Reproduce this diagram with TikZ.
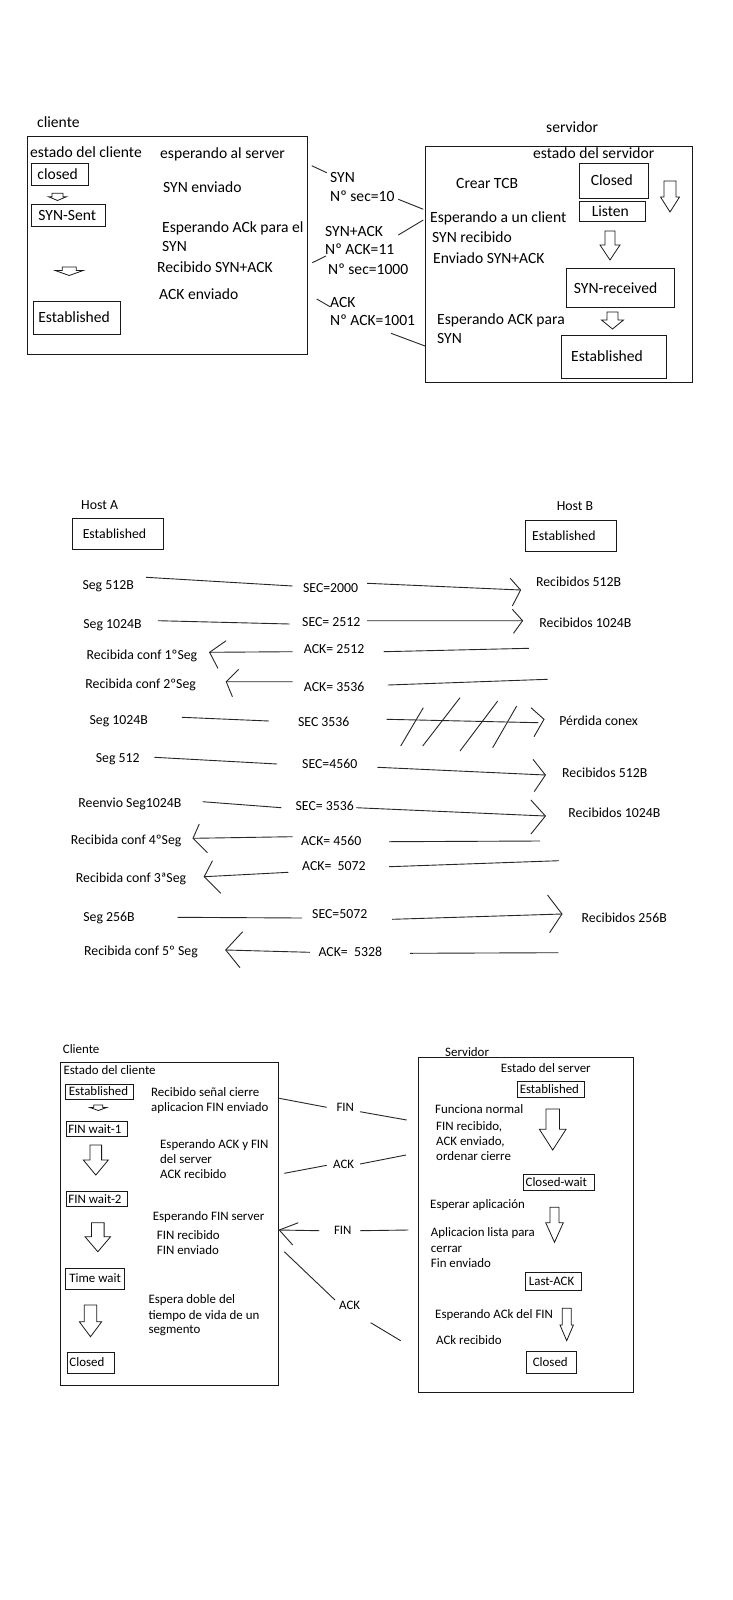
\documentclass[tikz,border=0pt]{standalone}
\usepackage{fontspec}
\setmainfont{Carlito}
\newcommand\DArr[6]{% cx, top, shaft half, head half, head start, tip
  \draw[blk] ({#1-#3},#2) -- ({#1+#3},#2) -- ({#1+#3},#5) -- ({#1+#4},#5) -- (#1,#6) -- ({#1-#4},#5) -- ({#1-#3},#5) -- cycle;}
\begin{document}
\begin{tikzpicture}[x=1pt,y=-1pt,
  txt/.style={inner sep=0pt, anchor=base west, yshift=-5.6pt},
  ctxt/.style={inner sep=0pt, text height=8.3pt, text depth=0pt},
  stbox/.style={draw=black!90, line width=0.9pt, inner ysep=0pt, anchor=west, text depth=0pt},
  bigbox/.style={draw=black!90, line width=0.9pt, anchor=north west, inner sep=0pt},
  conn/.style={draw=black!85, line width=0.9pt},
  blk/.style={draw=black!90, line width=0.8pt, fill=white, line join=miter}]
\useasboundingbox[fill=white] (0,0) rectangle (733,1600);

% ================= SECTION 1 =================
\begin{scope}[every node/.append style={font=\fontsize{15.6}{18}\selectfont},
  txt/.append style={yshift=-0.2pt}, stbox/.append style={text height=10pt}]
\node[txt] (cli) at (37,122) {cliente};
\node[bigbox, minimum width=280pt, minimum height=218.3pt] (cbox) at (27.3,135.7) {};
\node[txt] (ec) at (30,152) {estado del cliente};
\node[stbox, inner xsep=6pt, minimum height=21.7pt] (a1) at (31,174.15) {\makebox[45.3pt][l]{closed}};
\node[stbox, inner xsep=7pt, minimum height=22.4pt] (a2) at (31,215.5) {\makebox[60pt][l]{SYN-Sent}};
\node[stbox, inner xsep=4.5pt, minimum height=33.3pt] (a3) at (33.3,317.65) {\makebox[77.7pt][l]{Established}};
\DArr{57.5}{193.3}{5.5}{9}{196.7}{200.5}
\DArr{69.2}{267}{7}{14}{270.5}{275.5}
\node[txt] (t1) at (160,153) {esperando al server};
\node[txt] (t2) at (163,187) {SYN enviado};
\node[txt] (t3) at (162,227) {Esperando ACk para el};
\node[txt] (t4) at (162,246) {SYN};
\node[txt] (t5) at (157,267) {Recibido SYN+ACK};
\node[txt] (t6) at (159,294) {ACK enviado};

\node[txt] (m1) at (330,177) {SYN};
\node[txt] (m2) at (330,196) {Nº sec=10};
\node[txt] (m3) at (325,231) {SYN+ACK};
\node[txt] (m4) at (325,249) {Nº ACK=11};
\node[txt] (m5) at (328,269) {Nº sec=1000};
\node[txt] (m6) at (330,302) {ACK};
\node[txt] (m7) at (330,320) {Nº ACK=1001};

\node[txt] (srv) at (546,127) {servidor};
\node[bigbox, minimum width=266.7pt, minimum height=235.7pt] (sbox) at (425,146) {};
\node[txt] (es) at (533,153) {estado del servidor};
\node[stbox, inner xsep=11pt, minimum height=35pt] (s1) at (579.3,180.8) {\makebox[47pt][l]{Closed}};
\node[stbox, inner xsep=12pt, minimum height=20.7pt] (s2) at (579.3,211.35) {\makebox[41.7pt][l]{Listen}};
\node[stbox, inner xsep=7.5pt, minimum height=39pt] (s3) at (566,288.2) {\makebox[93.3pt][l]{SYN-received}};
\node[stbox, inner xsep=10pt, minimum height=43.3pt] (s4) at (560.7,356.65) {\makebox[85pt][l]{Established}};
\DArr{670}{181}{6}{9.5}{197}{212}
\DArr{610}{231}{5}{10}{245}{260}
\DArr{612.5}{312}{5.5}{11}{320}{329}
\node[txt] (u1) at (456,183) {Crear TCB};
\node[txt] (u2) at (430,217) {Esperando a un client};
\node[txt] (u3) at (432,237) {SYN recibido};
\node[txt] (u4) at (433,258) {Enviado SYN+ACK};
\node[txt] (u5) at (437,319) {Esperando ACK para};
\node[txt] (u6) at (437,338) {SYN};
\end{scope}
\coordinate (k1a) at (311.7,165.7); \coordinate (k1b) at (326.7,172.7);
\coordinate (k1c) at (398.3,199.3); \coordinate (k1d) at (423.3,209.3);
\coordinate (k2a) at (423.3,220);   \coordinate (k2b) at (398.3,235);
\coordinate (k2c) at (326,256);     \coordinate (k2d) at (312.3,262.7);
\coordinate (k3a) at (316.7,299);   \coordinate (k3b) at (330,306.7);
\coordinate (k3c) at (391,333.3);   \coordinate (k3d) at (425,346);
\draw[conn] (k1a) -- (k1b) (k1c) -- (k1d) (k2a) -- (k2b) (k2c) -- (k2d) (k3a) -- (k3b) (k3c) -- (k3d);

% ================= SECTION 2 =================
\begin{scope}[every node/.append style={font=\fontsize{13.8}{16}\selectfont},
  txt/.append style={yshift=0.4pt}, stbox/.append style={text height=8.9pt}]
\node[txt] (ha) at (81,504) {Host A};
\node[txt] (hb) at (556.6,505) {Host B};
\node[stbox, inner xsep=10.7pt, minimum height=31pt] (hae) at (71.6,533.8) {\makebox[69.8pt][l]{Established}};
\node[stbox, inner xsep=7pt, minimum height=31.7pt] (hbe) at (524.7,535.85) {\makebox[77.2pt][l]{Established}};

\node[txt] (r1l) at (82.3,584) {Seg 512B};
\node[txt] (r1m) at (302.9,587.3) {SEC=2000};
\node[txt] (r1r) at (535.9,581.7) {Recibidos 512B};
\node[txt] (r2l) at (83.2,623.3) {Seg 1024B};
\node[txt] (r2m) at (302,621.7) {SEC= 2512};
\node[txt] (r2r) at (539.2,622.7) {Recibidos 1024B};
\node[txt] (r3l) at (86.5,654) {Recibida conf 1ºSeg};
\node[txt] (r3m) at (303.7,648.3) {ACK= 2512};
\node[txt] (r4l) at (85.2,683.3) {Recibida conf 2ºSeg};
\node[txt] (r4m) at (303.7,686.7) {ACK= 3536};
\node[txt] (r5l) at (89.4,719.3) {Seg 1024B};
\node[txt] (r5m) at (297.9,721.7) {SEC 3536};
\node[txt] (r5r) at (559.1,720) {Pérdida conex};
\node[txt] (r6l) at (95.6,757.3) {Seg 512};
\node[txt] (r6m) at (302,763.3) {SEC=4560};
\node[txt] (r6r) at (562,772.3) {Recibidos 512B};
\node[txt] (r7l) at (78.2,802.7) {Reenvio Seg1024B};
\node[txt] (r7m) at (295.4,805.7) {SEC= 3536};
\node[txt] (r7r) at (568.2,812.3) {Recibidos 1024B};
\node[txt] (r8l) at (70.7,839) {Recibida conf 4ºSeg};
\node[txt] (r8m) at (300.8,840.7) {ACK= 4560};
\node[txt] (r9l) at (75.7,877.3) {Recibida conf 3ªSeg};
\node[txt] (r9m) at (302,865.7) {ACK=~ 5072};
\node[txt] (r10l) at (83.2,916.7) {Seg 256B};
\node[txt] (r10m) at (312,913.3) {SEC=5072};
\node[txt] (r10r) at (581.5,917.3) {Recibidos 256B};
\node[txt] (r11l) at (84,950) {Recibida conf 5º Seg};
\node[txt] (r11m) at (318.3,951.7) {ACK=~ 5328};
\end{scope}

% row 1
\coordinate (p1) at (520.6,590);
\draw[conn] (146.2,577.3) -- (292.5,586) (367.2,583.3) -- (p1);
\draw[conn] (510.2,578.3) -- (p1) -- (512.3,606);
% row 2
\coordinate (p2) at (522.6,620.7);
\draw[conn] (157.8,620.7) -- (289.6,624) (367.2,620.7) -- (p2);
\draw[conn] (512.3,609.3) -- (p2) -- (513.5,633.3);
% row 3
\coordinate (p3) at (209.6,652.3);
\draw[conn] (p3) -- (292.5,651.7) (383.7,651.7) -- (528.9,648.3);
\draw[conn] (226.2,640.7) -- (p3) -- (217.9,668.3);
% row 4
\coordinate (p4) at (226.2,681.7);
\draw[conn] (p4) -- (292.5,681.7) (387.9,685) -- (547.5,679.3);
\draw[conn] (238.6,669.3) -- (p4) -- (232.4,696.7);
% row 5
\coordinate (p5) at (544,719.3);
\draw[conn] (181.8,717.3) -- (268.9,721) (386.7,719.3) -- (538.3,722.7);
\draw[conn] (531,707.7) -- (p5) -- (534,736.7);
\draw[conn] (400.7,746) -- (423.3,707.7) (422.7,746) -- (460,697.7)
            (460,751) -- (497.7,701) (492.7,747.7) -- (516.7,706);
% row 6
\coordinate (p6) at (545.4,775);
\draw[conn] (154.5,757.3) -- (277.2,764) (377.5,767.3) -- (p6);
\draw[conn] (533,759.3) -- (p6) -- (534.2,791.7);
% row 7
\coordinate (p7) at (545.4,816);
\draw[conn] (202.6,801.7) -- (281.3,807.7) (356,807.7) -- (p7);
\draw[conn] (530.9,800) -- (p7) -- (530.9,834);
% row 8
\coordinate (p8) at (193,838.3);
\draw[conn] (p8) -- (292.5,836.7) (389.1,841.7) -- (540,841);
\draw[conn] (199.3,824) -- (p8) -- (207.5,852.7);
% row 9
\coordinate (p9) at (204.2,876.7);
\draw[conn] (p9) -- (288.4,872.3) (389.1,866.7) -- (559.1,860.7);
\draw[conn] (212.5,860.7) -- (p9) -- (220.8,893.3);
% row 10
\coordinate (p10) at (562,914);
\draw[conn] (177.7,917.3) -- (302,918) (392,919.3) -- (p10);
\draw[conn] (547.5,895) -- (p10) -- (549.6,932.7);
% row 11
\coordinate (p11) at (225.7,950);
\draw[conn] (p11) -- (310,952.3) (410,953.3) -- (558.3,952.7);
\draw[conn] (242.7,931.7) -- (p11) -- (240,967.7);

% ================= SECTION 3 =================
\begin{scope}[every node/.append style={font=\fontsize{12.9}{15}\selectfont},
  txt/.append style={yshift=0pt}, stbox/.append style={text height=8.3pt}]
\node[txt] (cl3) at (62.7,1047.7) {Cliente};
\node[bigbox, minimum width=218.6pt, minimum height=323.3pt] (cbox3) at (59.8,1061.7) {};
\node[txt] (ec3) at (63.3,1069) {Estado del cliente};
\node[stbox, inner xsep=3.5pt, minimum height=15pt] (c1) at (65,1091.5) {\makebox[61.3pt][l]{Established}};
\node[stbox, inner xsep=1.8pt, minimum height=14.3pt] (c2) at (66,1128.85) {\makebox[57.1pt][l]{FIN wait-1}};
\node[stbox, inner xsep=2pt, minimum height=15pt] (c3) at (66,1199.2) {\makebox[56.7pt][l]{FIN wait-2}};
\node[stbox, inner xsep=4pt, minimum height=20.7pt] (c4) at (65,1278.65) {\makebox[51pt][l]{Time wait}};
\node[stbox, inner xsep=2.5pt, minimum height=21pt] (c5) at (66.5,1362.8) {\makebox[42.8pt][l]{Closed}};
\DArr{98.3}{1105}{4.5}{8.3}{1107.5}{1110.5}
\DArr{95.8}{1145}{5.8}{12.5}{1160}{1175}
\DArr{97.8}{1222.7}{6.3}{12.8}{1236.7}{1251.7}
\DArr{90.5}{1305}{6.3}{11.2}{1321.7}{1336.7}
\node[txt] (v1) at (151,1090.7) {Recibido señal cierre};
\node[txt] (v2) at (151,1106) {aplicacion FIN enviado};
\node[txt] (v3) at (160,1143.3) {Esperando ACK y FIN};
\node[txt] (v4) at (160,1158.3) {del server};
\node[txt] (v5) at (160,1173.3) {ACK recibido};
\node[txt] (v6) at (152.7,1215) {Esperando FIN server};
\node[txt] (v7) at (156.7,1234) {FIN recibido};
\node[txt] (v8) at (156.7,1249) {FIN enviado};
\node[txt] (v9) at (148.3,1298.3) {Espera doble del};
\node[txt] (v10) at (148.3,1314) {tiempo de vida de un};
\node[txt] (v11) at (148.3,1328.3) {segmento};

\node[ctxt] (f1) at (345.3,1107.3) {FIN};
\node[ctxt] (f2) at (343.7,1164.3) {ACK};
\node[ctxt] (f3) at (342.8,1230.3) {FIN};
\node[ctxt] (f4) at (349.7,1305.7) {ACK};

\node[txt] (sv3) at (445,1050.7) {Servidor};
\node[bigbox, minimum width=215pt, minimum height=335pt] (sbox3) at (417.5,1057.3) {};
\node[txt] (es3) at (500.7,1067.3) {Estado del server};
\node[stbox, inner xsep=2pt, minimum height=15.6pt] (d1) at (517.3,1089.5) {\makebox[62.7pt][l]{Established}};
\node[stbox, inner xsep=2.5pt, minimum height=16.7pt] (d2) at (522.7,1182.35) {\makebox[66.3pt][l]{Closed-wait}};
\node[stbox, inner xsep=3.5pt, minimum height=17.3pt] (d3) at (525,1281.35) {\makebox[48.7pt][l]{Last-ACK}};
\node[stbox, inner xsep=6pt, minimum height=21.6pt] (d4) at (526.4,1362.5) {\makebox[37.4pt][l]{Closed}};
\DArr{552.7}{1109}{6.7}{13.3}{1129.3}{1150}
\DArr{554.5}{1207.3}{4.5}{8.8}{1222.7}{1242.3}
\DArr{566.7}{1308.3}{4.5}{6.7}{1325}{1340.7}
\node[txt] (w1) at (435,1107.7) {Funciona normal};
\node[txt] (w2) at (436,1125) {FIN recibido,};
\node[txt] (w3) at (436,1140) {ACK enviado,};
\node[txt] (w4) at (436,1155) {ordenar cierre};
\node[txt] (w5) at (430,1203.3) {Esperar aplicación};
\node[txt] (w6) at (430.7,1231) {Aplicacion lista para};
\node[txt] (w7) at (430.7,1246.7) {cerrar};
\node[txt] (w8) at (430.7,1261.7) {Fin enviado};
\node[txt] (w9) at (435,1312.7) {Esperando ACk del FIN};
\node[txt] (w10) at (436,1339) {ACk recibido};
\end{scope}

\coordinate (q3) at (279.3,1230);
\draw[conn] (279.3,1098.3) -- (326.7,1107.3) (360,1111.7) -- (406.7,1120);
\draw[conn] (406,1155) -- (360,1164) (326.7,1165.3) -- (284.3,1173.3);
\draw[conn] (408.3,1230) -- (360,1230.7) (319.3,1230.7) -- (q3);
\draw[conn] (298.3,1222.7) -- (q3) -- (292.7,1245);
\draw[conn] (284.3,1251.7) -- (335,1300) (370.7,1322.7) -- (400.7,1340.7);
\end{tikzpicture}
\end{document}
